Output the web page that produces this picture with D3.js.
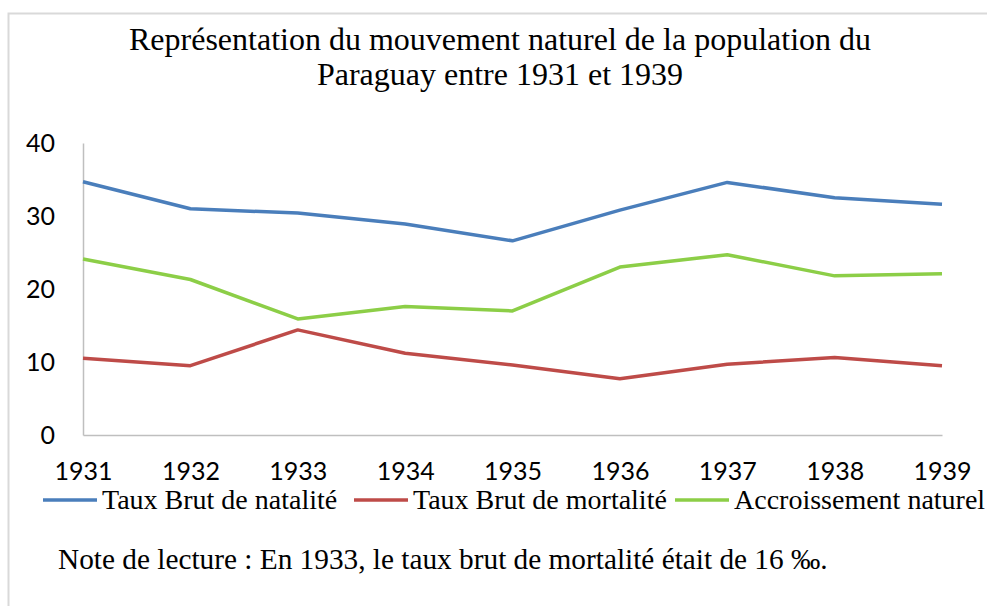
<!DOCTYPE html>
<html>
<head>
<meta charset="utf-8">
<script src="https://cdn.jsdelivr.net/npm/d3@7"></script>
<style>
  body { margin: 0; background: #fff; }
  svg { display: block; }
  .serif { font-family: "Liberation Serif", "Times New Roman", serif; fill: #000; }
  .tick text { font-family: Lato, "Liberation Sans", sans-serif; font-size: 25px; fill: #000; }
</style>
</head>
<body>
<svg width="987" height="606"></svg>
<script>
const years = [1931, 1932, 1933, 1934, 1935, 1936, 1937, 1938, 1939];
const natalite = [34.7, 31.0, 30.4, 28.9, 26.6, 30.8, 34.6, 32.5, 31.6];
const mortalite = [10.5, 9.5, 14.4, 11.2, 9.6, 7.7, 9.7, 10.6, 9.5];
const accroissement = [24.1, 21.3, 15.9, 17.6, 17.0, 23.0, 24.7, 21.8, 22.1];
const yTicks = [0, 10, 20, 30, 40];

const series = [
  { name: "Taux Brut de natalité", values: natalite, color: "#4a7ebb" },
  { name: "Taux Brut de mortalité", values: mortalite, color: "#be4b48" },
  { name: "Accroissement naturel", values: accroissement, color: "#8cce47" }
];

const svg = d3.select("svg");

// frame (top + left only)
svg.append("path")
  .attr("d", "M8.5,606 V13.5 H987")
  .attr("fill", "none")
  .attr("stroke", "#d9d9d9")
  .attr("stroke-width", 2);

// title
const title = svg.append("text")
  .attr("class", "serif")
  .attr("text-anchor", "middle")
  .style("font-size", "32px");
title.append("tspan").attr("x", 500).attr("y", 50)
  .text("Représentation du mouvement naturel de la population du");
title.append("tspan").attr("x", 500).attr("y", 85)
  .text("Paraguay entre 1931 et 1939");

const x = d3.scalePoint()
  .domain(years)
  .range([83, 942]);

const y = d3.scaleLinear()
  .domain([0, 40])
  .range([435, 143]);

// axes
const yAxis = svg.append("g")
  .attr("transform", "translate(83,0)")
  .call(d3.axisLeft(y).tickValues(yTicks).tickSize(0).tickPadding(28));
yAxis.select(".domain").attr("stroke", "#bfbfbf").attr("stroke-width", 1.5);

const xAxis = svg.append("g")
  .attr("transform", "translate(0,435)")
  .call(d3.axisBottom(x).tickSize(0).tickPadding(27).tickFormat(d3.format("d")));
xAxis.select(".domain").attr("stroke", "#bfbfbf").attr("stroke-width", 1.5);
xAxis.selectAll(".tick text").attr("dy", "0.71em");

// lines
const line = d3.line()
  .x((d, i) => x(years[i]))
  .y(d => y(d));

svg.append("g")
  .selectAll("path")
  .data(series)
  .join("path")
  .attr("fill", "none")
  .attr("stroke", d => d.color)
  .attr("stroke-width", 3.5)
  .attr("stroke-linejoin", "round")
  .attr("d", d => line(d.values));

// legend
const legendX = [43, 354, 675];
const legend = svg.append("g")
  .selectAll("g")
  .data(series)
  .join("g")
  .attr("transform", (d, i) => `translate(${legendX[i]},500)`);

legend.append("line")
  .attr("x1", 0).attr("x2", 54)
  .attr("stroke", d => d.color)
  .attr("stroke-width", 3.5);

legend.append("text")
  .attr("class", "serif")
  .attr("x", 59)
  .attr("dy", "0.33em")
  .style("font-size", "28px")
  .text(d => d.name);

// note
svg.append("text")
  .attr("class", "serif")
  .attr("x", 58)
  .attr("y", 569)
  .style("font-size", "29.3px")
  .text("Note de lecture : En 1933, le taux brut de mortalité était de 16 ‰.");
</script>
</body>
</html>
